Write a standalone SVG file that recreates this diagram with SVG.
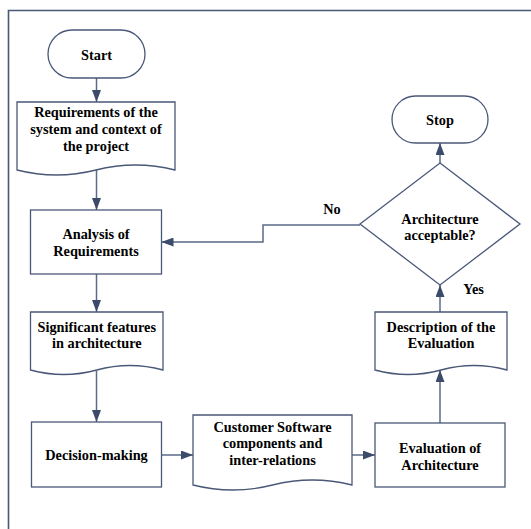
<svg xmlns="http://www.w3.org/2000/svg" width="531" height="529" viewBox="0 0 531 529">
  <style>
    .shape { fill: #ffffff; stroke: #4a5878; stroke-width: 1.3; }
    .conn { fill: none; stroke: #5a6a88; stroke-width: 1.5; marker-end: url(#arrow); }
    .frame { fill: none; stroke: #4a5878; stroke-width: 1.6; }
    text { font-family: 'Liberation Serif', 'Times New Roman', Tinos, 'Noto Serif', serif; font-weight: 700; font-size: 14.3px; fill: #000000; text-anchor: middle; }
  </style>
  <defs>
    <!-- filled triangular arrowhead, 12 long by 9 wide -->
    <marker id="arrow" viewBox="0 0 12 9" refX="12" refY="4.5" markerWidth="12" markerHeight="9" markerUnits="userSpaceOnUse" orient="auto">
      <path d="M0,0 L12,4.5 L0,9 Z" fill="#3d4b6b"/>
    </marker>
  </defs>
  <rect width="531" height="529" fill="#ffffff"/>

  <!-- outer frame (left and top edges) -->
  <path class="frame" d="M8.5,529 V10.5 H531"/>

  <g id="connectors">
    <path class="conn" d="M96.5,78 V102"/>
    <path class="conn" d="M96.5,170 V210"/>
    <path class="conn" d="M96.5,274 V312"/>
    <path class="conn" d="M96.5,371 V422"/>
    <path class="conn" d="M161.5,455 H193"/>
    <path class="conn" d="M352,455 H375"/>
    <path class="conn" d="M440,423 V370"/>
    <path class="conn" d="M440,312 V285"/>
    <path class="conn" d="M440,163 V143"/>
    <path class="conn" d="M360,225 H263 V242 H161.5"/>
  </g>

  <g id="start">
    <rect class="shape" x="48" y="30" width="97" height="48" rx="24"/>
    <text x="96.5" y="60">Start</text>
  </g>

  <g id="requirements">
    <path class="shape" d="M17,102 H175 V170 Q135.5,160 96,170 T17,170 Z"/>
    <text x="96" y="117.3">Requirements of the</text>
    <text x="96" y="134">system and context of</text>
    <text x="96" y="150.7">the project</text>
  </g>

  <g id="analysis">
    <rect class="shape" x="30.5" y="210" width="131" height="64"/>
    <text x="96" y="239">Analysis of</text>
    <text x="96" y="256">Requirements</text>
  </g>

  <g id="features">
    <path class="shape" d="M30.5,312 H163 V370 Q129.9,361 96.8,370 T30.5,370 Z"/>
    <text x="96.8" y="331.7">Significant features</text>
    <text x="96.8" y="348.3">in architecture</text>
  </g>

  <g id="decision-making">
    <rect class="shape" x="31.5" y="422" width="130" height="65"/>
    <text x="96.5" y="460.3">Decision-making</text>
  </g>

  <g id="components">
    <path class="shape" d="M193,415 H352 V485 Q312.3,475 272.5,485 T193,485 Z"/>
    <text x="272.5" y="431.5">Customer Software</text>
    <text x="272.5" y="447.8">components and</text>
    <text x="272.5" y="464.7">inter-relations</text>
  </g>

  <g id="evaluation">
    <rect class="shape" x="375" y="423" width="130" height="64"/>
    <text x="440" y="452.9">Evaluation of</text>
    <text x="440" y="469.8">Architecture</text>
  </g>

  <g id="description">
    <path class="shape" d="M375,312 H507 V370 Q474,361 441,370 T375,370 Z"/>
    <text x="441" y="331.7">Description of the</text>
    <text x="441" y="347.7">Evaluation</text>
  </g>

  <g id="acceptable">
    <path class="shape" d="M440,163 L520,224 L440,285 L360,224 Z"/>
    <text x="440" y="224">Architecture</text>
    <text x="440" y="240">acceptable?</text>
  </g>

  <g id="stop">
    <rect class="shape" x="392" y="96" width="96" height="47" rx="23.5"/>
    <text x="440" y="125.3">Stop</text>
  </g>

  <g id="labels">
    <text x="332" y="214.3">No</text>
    <text x="473.5" y="294">Yes</text>
  </g>
</svg>
